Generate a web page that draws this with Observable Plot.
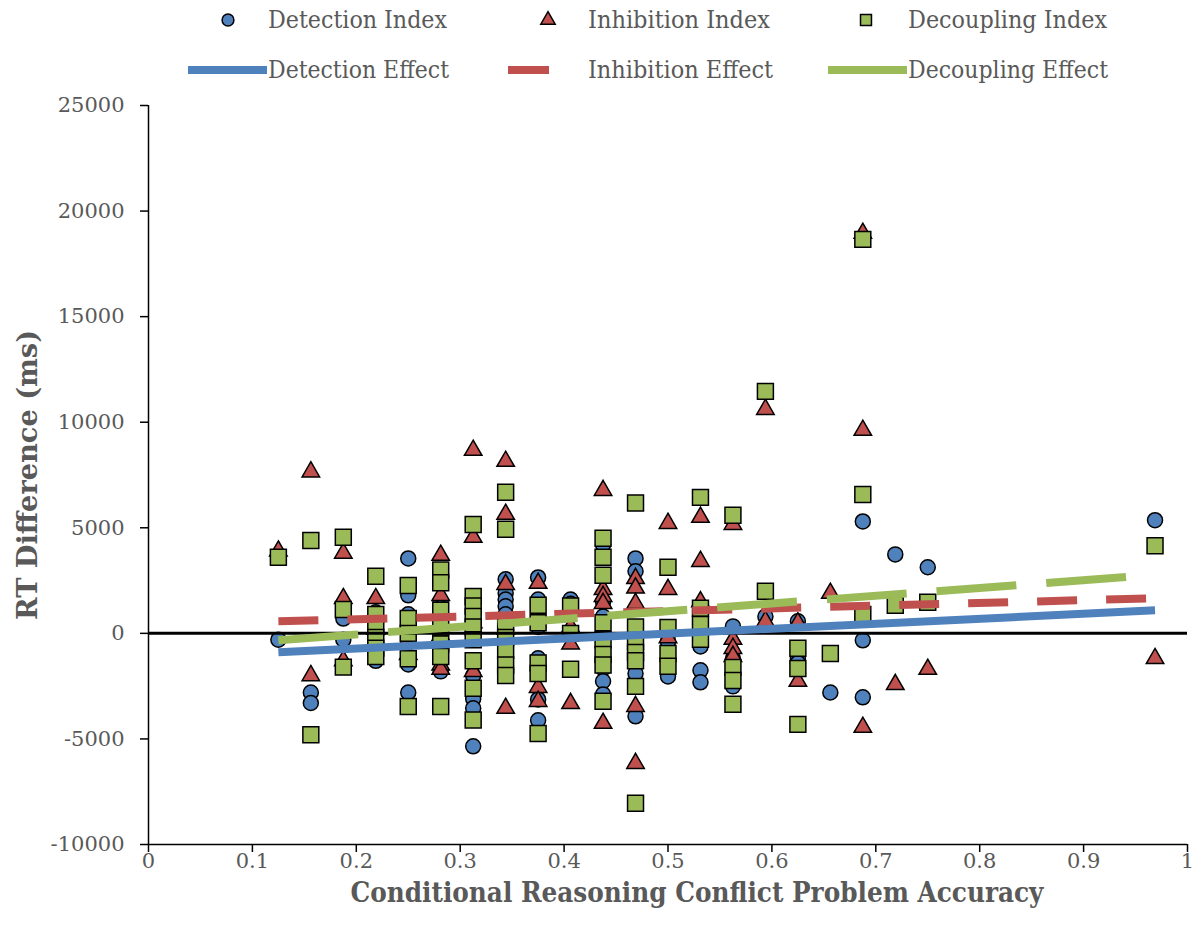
<!DOCTYPE html>
<html><head><meta charset="utf-8">
<script src="https://cdn.jsdelivr.net/npm/d3@7"></script>
<script src="https://cdn.jsdelivr.net/npm/@observablehq/plot@0.6"></script>
<style>
body{margin:0;background:#fff;}
#legend{display:block;width:1200px;height:90px;}
#chart svg{display:block;}
</style></head><body>
<svg id="legend" width="1200" height="90"></svg>
<div id="chart"></div>
<script>
// accuracy value -> RT difference values (ms)
const detectionIndex = [
  [0.125, [-300]],
  [0.15625, [-2800, -3300]],
  [0.1875, [700, -300]],
  [0.21875, [1000, -1300]],
  [0.25, [3550, 1800, 900, -1470, -2800]],
  [0.28125, [1500, 1200, -1800, -1300]],
  [0.3125, [200, -2000, -3100, -3550, -5350]],
  [0.34375, [2560, 1900, 1600, 1280, 900]],
  [0.375, [2650, 1600, 300, -1180, -3130, -4120]],
  [0.40625, [1600, 1400]],
  [0.4375, [4200, 1500, 800, -1660, -2270, -2890]],
  [0.46875, [3550, 2940, -1900, -3930]],
  [0.5, [-50, -400, -2040]],
  [0.53125, [-620, -1750, -2320]],
  [0.5625, [330, -1200, -2510]],
  [0.59375, [800]],
  [0.625, [570, -1180, -1400]],
  [0.65625, [-2800]],
  [0.6875, [5300, -330, -3030]],
  [0.71875, [3740]],
  [0.75, [3130]],
  [0.96875, [5360]]
];
const inhibitionIndex = [
  [0.125, [3900]],
  [0.15625, [7650, -2000]],
  [0.1875, [3800, 1650, -1300]],
  [0.21875, [1650, 200]],
  [0.25, [-300, -1000]],
  [0.28125, [3700, 1800, -100, -1500, -1700]],
  [0.3125, [8670, 4550, 500, -1800]],
  [0.34375, [8150, 5640, 2320, 200, -3550]],
  [0.375, [2370, -2560, -3220]],
  [0.40625, [300, -500, -3320]],
  [0.4375, [6770, 2080, 1750, 1420, -4260]],
  [0.46875, [2600, 2150, 1420, -3460, -6160]],
  [0.5, [5210, 2080, -200]],
  [0.53125, [5500, 3410, 1500]],
  [0.5625, [5160, -280, -710, -1090]],
  [0.59375, [10610, 570]],
  [0.625, [500, -2270]],
  [0.65625, [1900]],
  [0.6875, [18950, 9620, -4450]],
  [0.71875, [-2420]],
  [0.75, [-1700]],
  [0.96875, [-1190]]
];
const decouplingIndex = [
  [0.125, [3600]],
  [0.15625, [4400, -4800]],
  [0.1875, [4550, 1130, -1600]],
  [0.21875, [2700, 900, 300, -200, -700, -1100]],
  [0.25, [2270, 700, 0, -1200, -3460]],
  [0.28125, [3000, 2400, 1100, 300, -500, -1100, -3460]],
  [0.3125, [5160, 1750, 1300, 800, 300, -300, -1300, -2600, -4100]],
  [0.34375, [6680, 4930, 500, -200, -800, -1500, -2000]],
  [0.375, [1330, 500, -1400, -1900, -4740]],
  [0.40625, [1300, 0, -1700]],
  [0.4375, [4500, 3600, 2750, 500, -300, -1000, -1500, -3220]],
  [0.46875, [6170, 300, -400, -900, -1300, -2510, -8050]],
  [0.5, [3130, 280, -950, -1560]],
  [0.53125, [6440, 1190, 420, -280]],
  [0.5625, [5590, -1610, -2230, -3360]],
  [0.59375, [11460, 1990]],
  [0.625, [-710, -1660, -4310]],
  [0.65625, [-950]],
  [0.6875, [18660, 6580, 900]],
  [0.71875, [1330]],
  [0.75, [1470]],
  [0.96875, [4150]]
];
// linear trend lines (endpoints over data range)
const trendX = [0.125, 0.96875];
const detectionEffect = [-900, 1090];
const inhibitionEffect = [570, 1660];
const decouplingEffect = [-330, 2770];

const xTicks = [0, 0.1, 0.2, 0.3, 0.4, 0.5, 0.6, 0.7, 0.8, 0.9, 1];
const yTicks = [-10000, -5000, 0, 5000, 10000, 15000, 20000, 25000];
const xTitle = "Conditional Reasoning Conflict Problem Accuracy";
const yTitle = "RT Difference (ms)";
const legendLabels = ["Detection Index", "Inhibition Index", "Decoupling Index",
                      "Detection Effect", "Inhibition Effect", "Decoupling Effect"];

const BLUE = "#4F81BD", RED = "#C0504D", GREEN = "#9BBB59", TXT = "#595959";
const FONT = "'DejaVu Serif', 'Liberation Serif', serif";

const flat = s => s.flatMap(([x, vs]) => vs.map(v => ({x, y: v})));
const trend = ys => trendX.map((x, i) => ({x, y: ys[i]}));

const chart = Plot.plot({
  width: 1200, height: 849,
  marginTop: 15, marginBottom: 95, marginLeft: 148, marginRight: 13,
  style: {fontFamily: FONT, fontSize: "21px", background: "white", overflow: "visible"},
  x: {domain: [0, 1]},
  y: {domain: [-10000, 25000]},
  marks: [
    Plot.dot(flat(detectionIndex), {x: "x", y: "y", symbol: "circle", r: 7.5, fill: BLUE, stroke: "black", strokeWidth: 1.5}),
    Plot.dot(flat(inhibitionIndex), {x: "x", y: "y", symbol: "triangle", r: 6.5, fill: RED, stroke: "black", strokeWidth: 1.5}),
    Plot.dot(flat(decouplingIndex), {x: "x", y: "y", symbol: "square", r: 9, fill: GREEN, stroke: "black", strokeWidth: 1.5}),
    Plot.ruleY([0], {stroke: "black", strokeWidth: 3}),
    Plot.line(trend(detectionEffect), {x: "x", y: "y", stroke: BLUE, strokeWidth: 8, strokeLinecap: "butt"}),
    Plot.line(trend(inhibitionEffect), {x: "x", y: "y", stroke: RED, strokeWidth: 8, strokeLinecap: "butt", strokeDasharray: "40,29"}),
    Plot.line(trend(decouplingEffect), {x: "x", y: "y", stroke: GREEN, strokeWidth: 8, strokeLinecap: "butt", strokeDasharray: "80,30"}),
    Plot.ruleX([0], {stroke: "black", strokeWidth: 1.5}),
    Plot.ruleY([-10000], {stroke: "black", strokeWidth: 1.5}),
    Plot.axisX({ticks: xTicks, tickFormat: d => String(d), tickSize: 8, tickPadding: 1, stroke: "black", strokeWidth: 1.5, fill: TXT, label: null}),
    Plot.axisY({ticks: yTicks, tickFormat: d => String(d), tickSize: 8, tickPadding: 16, stroke: "black", strokeWidth: 1.5, fill: TXT, label: null}),
    Plot.text([xTitle], {text: d => d, frameAnchor: "bottom", dx: 29, dy: 49, fontSize: 28, fontWeight: "bold", fill: TXT, lineAnchor: "middle", textAnchor: "middle", className: "xtitle"}),
    Plot.text([yTitle], {text: d => d, frameAnchor: "left", dx: -120, rotate: -90, fontSize: 28, fontWeight: "bold", fill: TXT, lineAnchor: "middle", textAnchor: "middle", className: "ytitle"})
  ]
});
document.getElementById("chart").appendChild(chart);
// condense the titles to the reference widths
d3.select(chart).selectAll(".xtitle text").attr("textLength", 693).attr("lengthAdjust", "spacingAndGlyphs");
d3.select(chart).selectAll(".ytitle text").attr("textLength", 290).attr("lengthAdjust", "spacingAndGlyphs");

// legend
const lg = d3.select("#legend").style("font-family", FONT);
const cols = [{m: 228, t: 268}, {m: 548, t: 588}, {m: 866, t: 908}];
const widths = [179, 182, 199, 181, 185, 200];
const colors = [BLUE, RED, GREEN];
const symbols = [d3.symbolCircle, d3.symbolTriangle, d3.symbolSquare];
const symSizes = [110, 90, 120];
cols.forEach((c, i) => {
  lg.append("path").attr("d", d3.symbol(symbols[i], symSizes[i])())
    .attr("transform", `translate(${c.m},20)`)
    .attr("fill", colors[i]).attr("stroke", "black").attr("stroke-width", 1.5);
  lg.append("text").attr("x", c.t).attr("y", 28).text(legendLabels[i])
    .attr("fill", TXT).attr("font-size", 24)
    .attr("textLength", widths[i]).attr("lengthAdjust", "spacingAndGlyphs");
});
const lineSw = [[188, 267], [508, 549], [828, 907]];
lineSw.forEach((s, i) => {
  lg.append("line").attr("x1", s[0]).attr("x2", s[1]).attr("y1", 70).attr("y2", 70)
    .attr("stroke", colors[i]).attr("stroke-width", 8);
  lg.append("text").attr("x", cols[i].t).attr("y", 78).text(legendLabels[i + 3])
    .attr("fill", TXT).attr("font-size", 24)
    .attr("textLength", widths[i + 3]).attr("lengthAdjust", "spacingAndGlyphs");
});
</script></body></html>
